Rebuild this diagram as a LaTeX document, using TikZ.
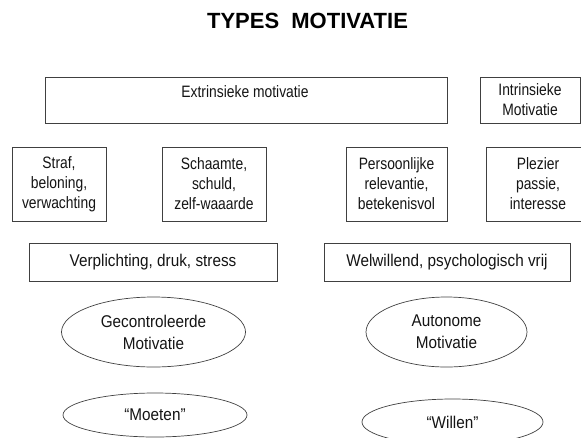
\documentclass[tikz,border=0pt]{standalone}
\usepackage{fontspec}
\setmainfont{Liberation Sans}
\newfontfamily\slimsans[FakeStretch=0.84]{Liberation Sans}
\newfontfamily\midsans[FakeStretch=0.90]{Liberation Sans}
\usetikzlibrary{shapes.geometric}
\begin{document}
\begin{tikzpicture}[x=1pt,y=-1pt,
  every node/.style={inner sep=0pt,outer sep=0pt,text=black!92},
  txt/.style={font=\slimsans\fontsize{16.5}{20}\selectfont,align=center},
  bigtxt/.style={font=\midsans\fontsize{17}{22}\selectfont,align=center},
  box/.style={draw=black!75,line width=0.7pt,rectangle},
  oval/.style={draw=black!75,line width=0.7pt,ellipse}]
\useasboundingbox (0,0) rectangle (581,437);
\clip (0,0) rectangle (581,437);

% title
\node[font=\fontsize{22}{24}\bfseries,text=black] (title) at (307.5,21) {TYPES\ \ MOTIVATIE};

% top row
\node[box,minimum width=402pt,minimum height=46pt] (ext) at (246,100) {};
\node[txt,anchor=base] (extlbl) at (245,97.5) {Extrinsieke motivatie};
\node[box,txt,minimum width=100pt,minimum height=46pt] (int) at (530,100) {Intrinsieke\\Motivatie};

% second row
\node[box,txt,minimum width=94pt,minimum height=74pt] (straf) at (59,184) {Straf,\\beloning,\\verwachting};
\node[box,txt,minimum width=104pt,minimum height=74pt] (scha) at (214,184) {Schaamte,\\schuld,\\zelf-waaarde};
\node[box,txt,minimum width=101pt,minimum height=74pt] (pers) at (396.5,184) {Persoonlijke\\relevantie,\\betekenisvol};
\node[box,txt,minimum width=104pt,minimum height=74pt] (plez) at (538,184) {Plezier\\passie,\\interesse};

% third row
\node[box,bigtxt,minimum width=248pt,minimum height=38pt] (verp) at (153,262) {Verplichting, druk, stress};
\node[box,bigtxt,minimum width=246pt,minimum height=38pt] (welw) at (447,262) {Welwillend, psychologisch vrij};

% ellipses
\node[oval,bigtxt,minimum width=184pt,minimum height=70pt] (gec) at (153.5,332) {Gecontroleerde\\Motivatie};
\node[oval,bigtxt,minimum width=161pt,minimum height=70pt] (aut) at (446.5,332) {Autonome\\Motivatie};
\node[oval,bigtxt,minimum width=184pt,minimum height=44pt] (moet) at (155,415) {“Moeten”};
\node[oval,bigtxt,minimum width=181pt,minimum height=46pt] (will) at (452.5,422) {“Willen”};
\end{tikzpicture}
\end{document}
